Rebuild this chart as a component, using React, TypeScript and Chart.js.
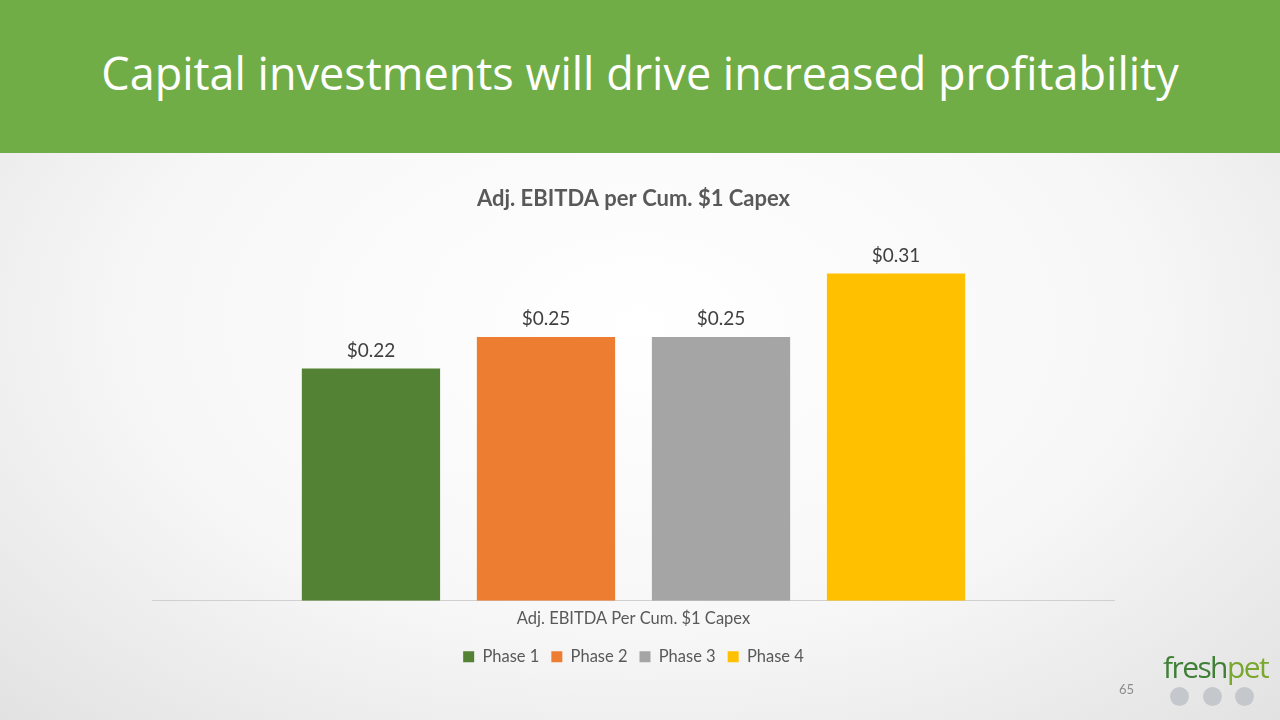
import { useEffect, useRef } from 'react'
import Chart from 'chart.js/auto'

// values
const categories = ['Adj. EBITDA Per Cum. $1 Capex']
const phases = ['Phase 1', 'Phase 2', 'Phase 3', 'Phase 4']
const values = [0.22, 0.25, 0.25, 0.31]
const colors = ['#548235', '#ED7D31', '#A5A5A5', '#FFC000']

const FONT = 'Lato, "Open Sans", sans-serif'

const valueLabels = {
  id: 'valueLabels',
  afterDatasetsDraw(chart: Chart) {
    const { ctx } = chart
    ctx.save()
    ctx.font = `19px ${FONT}`
    ctx.fillStyle = '#404040'
    ctx.textAlign = 'center'
    ctx.textBaseline = 'middle'
    chart.data.datasets.forEach((ds, i) => {
      const meta = chart.getDatasetMeta(i)
      meta.data.forEach((bar, j) => {
        const v = ds.data[j] as number
        ctx.fillText('$' + v.toFixed(2), bar.x, bar.y - 18)
      })
    })
    ctx.restore()
  },
}

function CapexChart() {
  const canvasRef = useRef<HTMLCanvasElement>(null)
  const chartRef = useRef<Chart | null>(null)

  useEffect(() => {
    if (!canvasRef.current) return

    chartRef.current = new Chart(canvasRef.current, {
      type: 'bar',
      data: {
        labels: categories,
        datasets: phases.map((p, i) => ({
          label: p,
          data: [values[i]],
          backgroundColor: colors[i],
          categoryPercentage: 0.727,
          barPercentage: 0.79,
        })),
      },
      options: {
        animation: false,
        responsive: false,
        layout: { padding: { bottom: 15 } },
        scales: {
          y: { display: false, min: 0, max: 0.35 },
          x: {
            grid: { display: false, drawTicks: false },
            border: { color: '#d0d0d0', width: 1 },
            ticks: { color: '#595959', font: { family: FONT, size: 16.5 }, padding: 8 },
          },
        },
        plugins: {
          title: {
            display: true,
            text: 'Adj. EBITDA per Cum. $1 Capex',
            color: '#595959',
            font: { family: FONT, size: 22, weight: 'bold' },
            padding: { top: 16, bottom: 19 },
          },
          legend: {
            position: 'bottom',
            labels: {
              color: '#595959',
              font: { family: FONT, size: 16.5 },
              boxWidth: 11,
              boxHeight: 11,
              padding: 12,
            },
          },
          tooltip: { enabled: false },
        },
      },
      plugins: [valueLabels],
    })

    return () => {
      if (chartRef.current) {
        chartRef.current.destroy()
        chartRef.current = null
      }
    }
  }, [])

  return (
    <canvas
      ref={canvasRef}
      width={963}
      height={520}
      style={{ position: 'absolute', left: 152, top: 170, width: 963, height: 520 }}
    />
  )
}

export default function App() {
  return (
    <div
      style={{
        position: 'fixed',
        inset: 0,
        width: 1280,
        height: 720,
        overflow: 'hidden',
        background: 'radial-gradient(ellipse at 50% 45%, #ffffff 0%, #f7f7f7 55%, #e2e2e2 100%)',
        fontFamily: FONT,
      }}
    >
      <div
        style={{
          position: 'absolute',
          left: 0,
          top: 0,
          width: 1280,
          height: 153,
          background: '#70AD47',
          color: '#fff',
          fontFamily: '"Open Sans", sans-serif',
          fontSize: 45,
          lineHeight: '146px',
          textAlign: 'center',
        }}
      >
        Capital investments will drive increased profitability
      </div>
      <CapexChart />
      <div style={{ position: 'absolute', left: 1119, top: 681, fontSize: 13, color: '#8c8c8c' }}>65</div>
      <div
        style={{
          position: 'absolute',
          left: 1163,
          top: 651,
          fontSize: 30,
          letterSpacing: -1.6,
          lineHeight: '32px',
          fontFamily: '"Open Sans", sans-serif',
        }}
      >
        <span style={{ color: '#3f7f36' }}>fresh</span>
        <span style={{ color: '#7aa72e' }}>pet</span>
      </div>
      {[1170, 1203, 1235].map((x) => (
        <div
          key={x}
          style={{
            position: 'absolute',
            left: x,
            top: 687,
            width: 19,
            height: 19,
            borderRadius: '50%',
            background: '#c4c8cc',
          }}
        />
      ))}
    </div>
  )
}
